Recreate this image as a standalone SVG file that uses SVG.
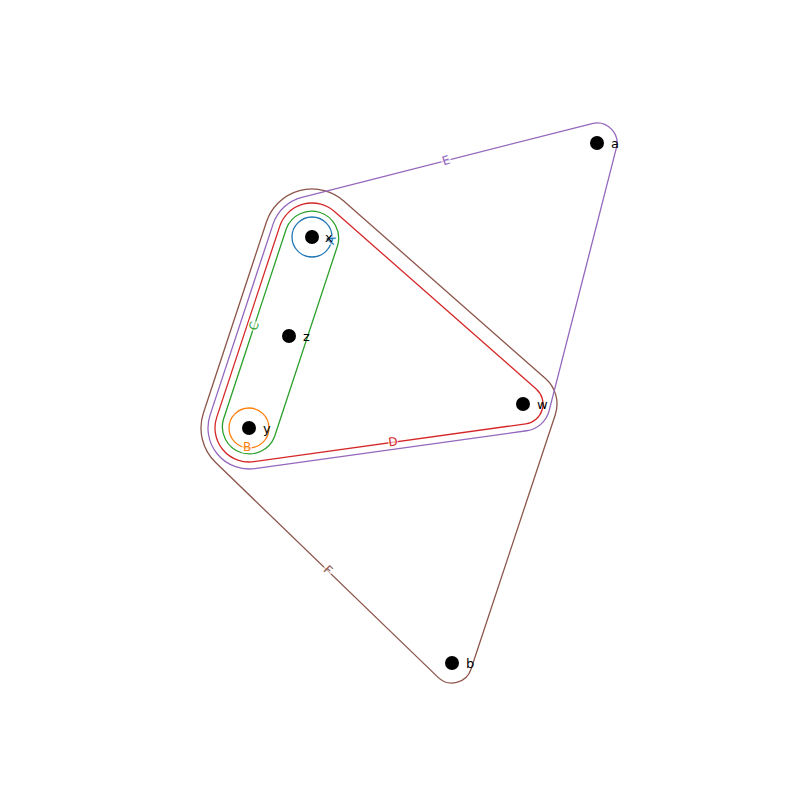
<svg xmlns="http://www.w3.org/2000/svg" width="800" height="800" viewBox="0 0 800 800">
<style>
.edge{fill:none;stroke-width:1.3}
.node{fill:#000}
.nl{font-family:"DejaVu Sans",sans-serif;font-size:13px;fill:#000;dominant-baseline:central}
.el{font-family:"DejaVu Sans",sans-serif;font-size:12px;text-anchor:middle;dominant-baseline:central}
.bg{fill:#fff;opacity:0.6}
</style>
<rect width="800" height="800" fill="#fff"/>
<g id="edges">
<g id="edge-F"><path class="edge" stroke="#8c564b" d="M343.71,200.96 L545.46,378.47 A34,34 0 0 1 555.28,414.69 L470.99,669.29 A20,20 0 0 1 438.11,677.39 L215.65,462.53 A48,48 0 0 1 203.42,412.96 L266.42,221.96 A48,48 0 0 1 343.71,200.96 Z"/></g>
<g id="edge-E"><path class="edge" stroke="#9467bd" d="M301.91,197.26 L592.08,123.61 A20,20 0 0 1 616.38,147.96 L549.16,410.69 A27,27 0 0 1 526.72,430.74 L254.65,468.61 A41,41 0 0 1 210.06,415.16 L273.06,224.16 A41,41 0 0 1 301.91,197.26 Z"/></g>
<g id="edge-D"><path class="edge" stroke="#d62728" d="M334.46,211.47 L536.21,388.98 A20,20 0 0 1 525.76,423.81 L253.69,461.67 A34,34 0 0 1 216.71,417.35 L279.71,226.35 A34,34 0 0 1 334.46,211.47 Z"/></g>
<g id="edge-C"><path class="edge" stroke="#2ca02c" d="M337.6,245.5 L274.6,436.5 A27,27 0 0 1 223.4,419.5 L286.4,228.5 A27,27 0 0 1 337.6,245.5 Z"/></g>
<g id="edge-B"><circle class="edge" stroke="#ff7f0e" cx="249" cy="428" r="20"/></g>
<g id="edge-A"><circle class="edge" stroke="#1f77b4" cx="312" cy="237" r="20"/></g>
</g>
<g id="edge-labels">
<g transform="translate(446,160.5) rotate(-18.3)"><rect class="bg" x="-5" y="-6" width="10" height="12"/><text class="el" fill="#9467bd">E</text></g>
<g transform="translate(393,442) rotate(-7.9)"><rect class="bg" x="-5" y="-6" width="10" height="12"/><text class="el" fill="#d62728">D</text></g>
<g transform="translate(328,570) rotate(44)"><rect class="bg" x="-5" y="-6" width="10" height="12"/><text class="el" fill="#8c564b">F</text></g>
<g transform="translate(254,326) rotate(-71.7)"><rect class="bg" x="-5" y="-6" width="10" height="12"/><text class="el" fill="#2ca02c">C</text></g>
<g transform="translate(247,447)"><rect class="bg" x="-5" y="-6" width="10" height="12"/><text class="el" fill="#ff7f0e">B</text></g>
<g transform="translate(331,240) rotate(-72)"><rect class="bg" x="-5" y="-6" width="10" height="12"/><text class="el" fill="#1f77b4">A</text></g>
</g>
<g id="node-x"><circle class="node" cx="312" cy="237" r="7"/><text class="nl" x="325" y="237">x</text></g>
<g id="node-z"><circle class="node" cx="289" cy="336" r="7"/><text class="nl" x="303" y="336">z</text></g>
<g id="node-y"><circle class="node" cx="249" cy="428" r="7"/><text class="nl" x="263" y="428">y</text></g>
<g id="node-w"><circle class="node" cx="523" cy="404" r="7"/><text class="nl" x="537" y="404">w</text></g>
<g id="node-a"><circle class="node" cx="597" cy="143" r="7"/><text class="nl" x="611" y="143">a</text></g>
<g id="node-b"><circle class="node" cx="452" cy="663" r="7"/><text class="nl" x="466" y="663">b</text></g>
</svg>
